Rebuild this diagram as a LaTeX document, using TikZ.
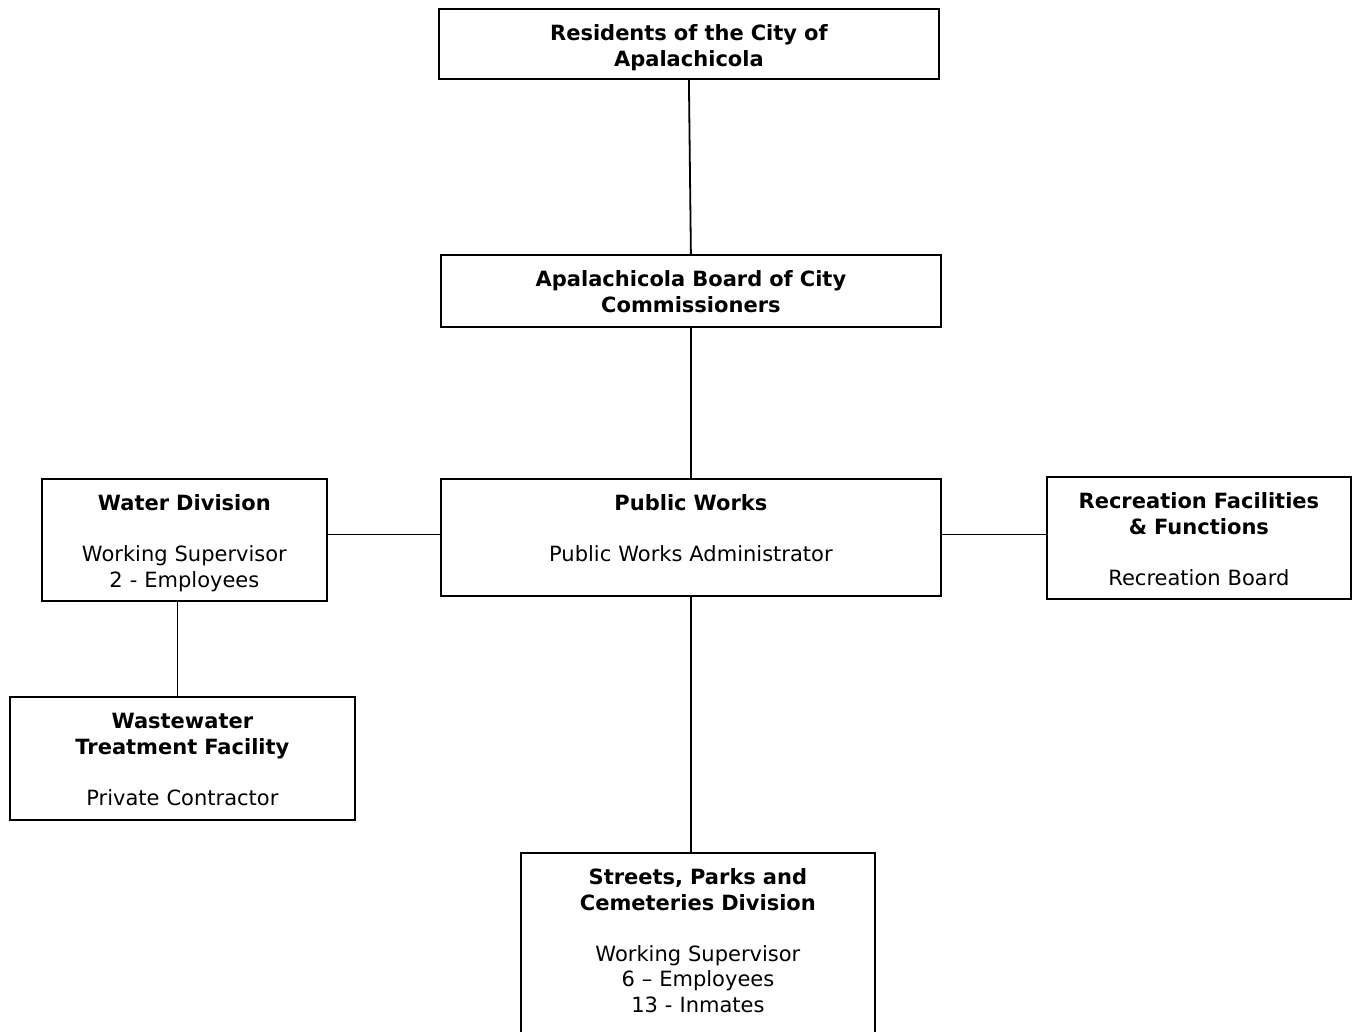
\documentclass[tikz,border=0pt]{standalone}
\usepackage{fontspec}
\setmainfont{DejaVu Sans}
\usepackage{tikz}
\usetikzlibrary{shapes,arrows}
\tikzstyle{block} = [rectangle, draw, line width=1.8pt, anchor=north west,
    inner sep=0pt, text centered, text height=32pt,
    font=\fontsize{21}{25.5}\selectfont]
\tikzstyle{line} = [draw, line width=1.8pt]

\begin{document}
\begin{tikzpicture}[x=1pt, y=-1pt]
\useasboundingbox (0,0) rectangle (1353,1032);
\node [block, text width=500pt, text depth=38pt] at (438,8) (residents) {{\bfseries Residents of the City of\\ Apalachicola}};
\node [block, text width=500pt, text depth=40pt] at (440,254) (board) {{\bfseries Apalachicola Board of City\\ Commissioners}};
\node [block, text width=500pt, text depth=85pt] at (440,478) (works) {{\bfseries Public Works}\\[25.5pt] Public Works Administrator};
\node [block, text width=285pt, text depth=90pt] at (41,478) (water) {{\bfseries Water Division}\\[25.5pt] Working Supervisor\\ 2 - Employees};
\node [block, text width=304pt, text depth=90pt] at (1046,476) (recreation) {{\bfseries Recreation Facilities\\ \& Functions}\\[25.5pt] Recreation Board};
\node [block, text width=345pt, text depth=91pt] at (9,696) (wastewater) {{\bfseries Wastewater\\ Treatment Facility}\\[25.5pt] Private Contractor};
\node [block, text width=354pt, text depth=168pt] at (520,852) (streets) {{\bfseries Streets, Parks and\\ Cemeteries Division}\\[25.5pt] Working Supervisor\\ 6 – Employees\\ 13 - Inmates};

\draw [line] (residents.south) -- (board.north);
\draw [line] (board.south) -- (works.north);
\draw [line] ([yshift=3pt]works.west) -- ([yshift=3pt]works.west -| water.east);
\draw [line] ([yshift=3pt]works.east) -- ([yshift=3pt]works.east -| recreation.west);
\draw [line] ([xshift=-7pt]water.south) -- ([xshift=-7pt]water.south |- wastewater.north);
\draw [line] (works.south) -- (works.south |- streets.north);
\end{tikzpicture}
\end{document}
